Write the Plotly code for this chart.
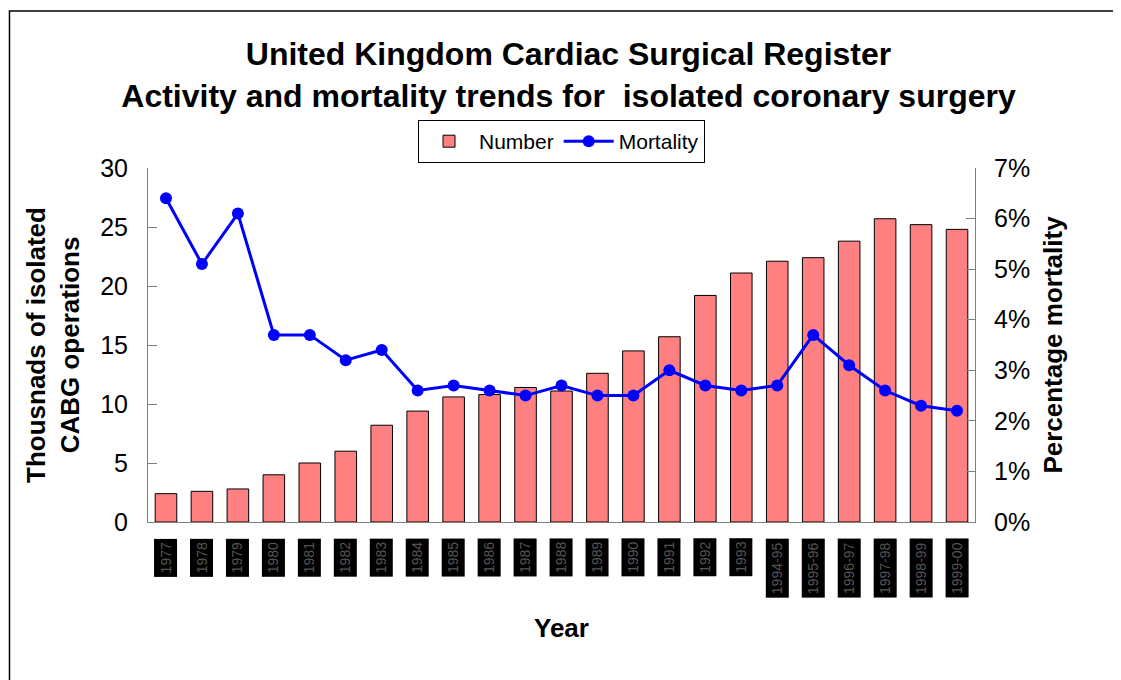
import plotly.graph_objects as go

years = ["1977", "1978", "1979", "1980", "1981", "1982", "1983", "1984", "1985",
         "1986", "1987", "1988", "1989", "1990", "1991", "1992", "1993",
         "1994-95", "1995-96", "1996-97", "1997-98", "1998-99", "1999-00"]
number_thousands = [2.4, 2.6, 2.8, 4.0, 5.0, 6.0, 8.2, 9.4, 10.6, 10.8, 11.4, 11.1,
                    12.6, 14.5, 15.7, 19.2, 21.1, 22.1, 22.4, 23.8, 25.7, 25.2, 24.8]
mortality_pct = [6.4, 5.1, 6.1, 3.7, 3.7, 3.2, 3.4, 2.6, 2.7, 2.6, 2.5, 2.7,
                 2.5, 2.5, 3.0, 2.7, 2.6, 2.7, 3.7, 3.1, 2.6, 2.3, 2.2]
mort_ticks = [0, 1, 2, 3, 4, 5, 6, 7]
mort_ticktext = ["0%", "1%", "2%", "3%", "4%", "5%", "6%", "7%"]
num_ticks = [0, 5, 10, 15, 20, 25, 30]

FONT = "Arial, Liberation Sans, sans-serif"
xpos = list(range(len(years)))

fig = go.Figure()
fig.add_trace(go.Bar(
    x=xpos, y=number_thousands, name="Number",
    marker=dict(color="#FF8080", line=dict(color="black", width=1)),
    yaxis="y",
))
fig.add_trace(go.Scatter(
    x=xpos, y=mortality_pct, name="Mortality", mode="lines+markers",
    line=dict(color="#0000FF", width=3),
    marker=dict(color="#0000FF", size=12),
    yaxis="y2",
))

# category labels rendered as dark boxes below the axis
for i, yr in zip(xpos, years):
    fig.add_annotation(
        x=i, y=-0.045, xref="x", yref="paper", text=yr, textangle=-90,
        showarrow=False, xanchor="center", yanchor="top",
        font=dict(family=FONT, size=14, color="#555555"),
        bgcolor="black", borderpad=3,
    )

fig.add_annotation(x=0.5, y=-0.30, xref="paper", yref="paper", text="<b>Year</b>",
                   showarrow=False, yanchor="middle",
                   font=dict(family=FONT, size=26, color="black"))

# outer frame (top and left edges visible)
fig.add_shape(type="rect", xref="paper", yref="paper",
              x0=-0.1675, x1=1.5, y0=-0.7, y1=1.4435,
              line=dict(color="black", width=1.5), fillcolor="rgba(0,0,0,0)", layer="below")

fig.update_layout(
    width=1121, height=680,
    margin=dict(l=140, r=154, t=160, b=166, autoexpand=False),
    paper_bgcolor="white", plot_bgcolor="white",
    font=dict(family=FONT, color="black"),
    title=dict(
        text="<b>United Kingdom Cardiac Surgical Register<br>Activity and mortality trends for  isolated coronary surgery</b>",
        x=0.5, xanchor="center", y=0.916, yanchor="middle",
        font=dict(family=FONT, size=32, color="black"),
    ),
    bargap=0.4,
    showlegend=True,
    legend=dict(
        orientation="h", x=0.5, xanchor="center", y=1.014, yanchor="bottom",
        bordercolor="black", borderwidth=1, bgcolor="white", itemwidth=50,
        font=dict(family=FONT, size=21, color="black"),
    ),
    xaxis=dict(
        range=[-0.5, len(years) - 0.5], showticklabels=False, ticks="",
        showline=True, linecolor="#808080", linewidth=1,
        showgrid=False, zeroline=False, automargin=False,
    ),
    yaxis=dict(
        range=[0, 30], tickvals=num_ticks,
        ticks="inside", ticklen=9, tickcolor="#808080",
        showline=True, linecolor="#808080", linewidth=1,
        showgrid=False, zeroline=False, automargin=False,
        ticklabelstandoff=14,
        tickfont=dict(family=FONT, size=25, color="black"),
        title=dict(text="<b>Thousnads of isolated<br>CABG operations</b>",
                   font=dict(family=FONT, size=26, color="black"), standoff=13),
    ),
    yaxis2=dict(
        range=[0, 7], tickvals=mort_ticks, ticktext=mort_ticktext,
        overlaying="y", side="right",
        ticks="inside", ticklen=9, tickcolor="#808080",
        showline=True, linecolor="#808080", linewidth=1,
        showgrid=False, zeroline=False, automargin=False,
        ticklabelstandoff=13,
        tickfont=dict(family=FONT, size=25, color="black"),
        title=dict(text="<b>Percentage mortality</b>",
                   font=dict(family=FONT, size=26, color="black"), standoff=14),
    ),
)

fig.write_html("out.html")
